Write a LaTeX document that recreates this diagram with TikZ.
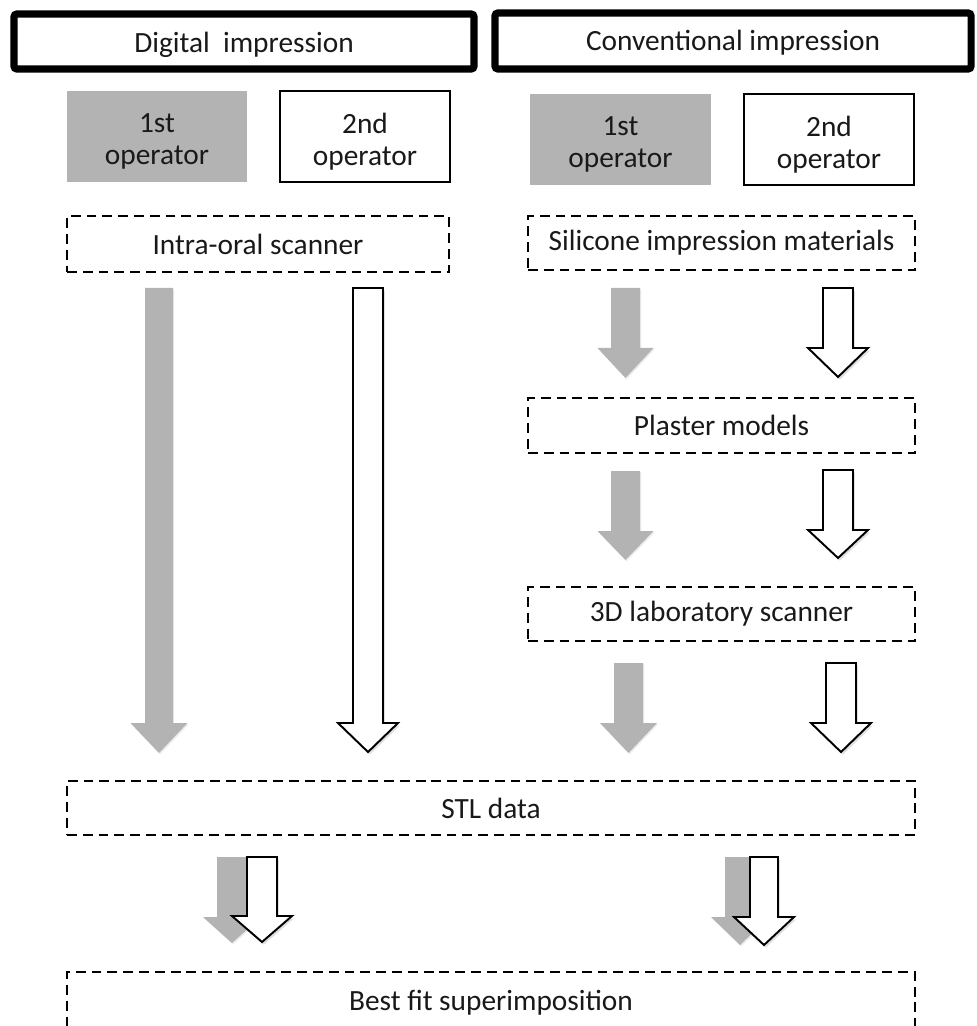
\documentclass[tikz,border=0pt]{standalone}
\usepackage{fontspec}
\setmainfont{Carlito}
\usetikzlibrary{shadows}
\definecolor{opgray}{HTML}{B3B3B3}
\newcommand\px{0.02cm}
\newcommand\blockarrow[7]{%
  \path[#1] (#2-#6,#3) -- (#2+#6,#3) -- (#2+#6,#4) -- (#2+#7,#4) -- (#2,#5)
    -- (#2-#7,#4) -- (#2-#6,#4) -- cycle;}
\begin{document}
\begin{tikzpicture}[x=0.02cm,y=-0.02cm,
  every node/.style={font=\fontsize{16.7}{18.2}\selectfont, text=black!90, outer sep=0pt, inner sep=0pt, align=center},
  headbox/.style={draw=black, line width=4pt, rounded corners=1.5pt, fill=white},
  opgraybox/.style={fill=opgray},
  opwhitebox/.style={draw=black, line width=0.9pt, fill=white},
  stepbox/.style={draw=black, line width=0.85pt, dash pattern=on 5.6pt off 3.4pt},
  grayarrow/.style={fill=opgray, drop shadow={opacity=0.15, shadow xshift=0.6pt, shadow yshift=-0.8pt}},
  whitearrow/.style={fill=white, draw=black, line width=1.1pt, line join=miter, drop shadow={opacity=0.25, shadow xshift=1pt, shadow yshift=-1.5pt}}]
\clip (0,0) rectangle (976,1026);
\fill[white] (0,0) rectangle (976,1026);

% headers
\node[headbox, minimum width=460*\px, minimum height=55*\px] (dig) at (244,41.5) {};
\node at ([yshift=-3*\px]dig.center) {Digital~~impression};
\node[headbox, minimum width=476*\px, minimum height=56*\px] (conv) at (733,41) {};
\node at ([yshift=-2*\px]conv.center) {Conventional impression};

% operators
\node[opgraybox, minimum width=180*\px, minimum height=91*\px] (d1) at (157,136.5) {};
\node at ([yshift=-5*\px]d1.center) {1st\\operator};
\node[opwhitebox, minimum width=170*\px, minimum height=91*\px] (d2) at (365,136.5) {};
\node at ([yshift=-5*\px]d2.center) {2nd\\operator};
\node[opgraybox, minimum width=181*\px, minimum height=91*\px] (c1) at (620.5,139.5) {};
\node at ([yshift=-5*\px]c1.center) {1st\\operator};
\node[opwhitebox, minimum width=170*\px, minimum height=91*\px] (c2) at (829,139.5) {};
\node at ([yshift=-5*\px]c2.center) {2nd\\operator};

% steps
\node[stepbox, minimum width=382*\px, minimum height=56*\px] (ios) at (258,244) {Intra-oral scanner};
\node[stepbox, minimum width=387*\px, minimum height=54*\px] (sil) at (721.5,243) {Silicone impression materials};
\node[stepbox, minimum width=387*\px, minimum height=55*\px] (pla) at (721.5,425.5) {Plaster models};
\node[stepbox, minimum width=387*\px, minimum height=54*\px] (lab) at (721.5,614) {3D laboratory scanner};
\node[stepbox, minimum width=848*\px, minimum height=54*\px] (stl) at (491,808) {STL data};
\node[stepbox, minimum width=848*\px, minimum height=62*\px] (best) at (491,1003) {Best fit superimposition};

% digital arrows
\blockarrow{grayarrow}{159}{288}{723}{753}{14}{28.5}
\blockarrow{whitearrow}{368}{288}{723}{752}{15}{30}

% conventional arrows
\blockarrow{grayarrow}{625.5}{288}{348}{378}{14.5}{28}
\blockarrow{whitearrow}{838}{288}{348}{377}{15}{30}
\blockarrow{grayarrow}{625.5}{471}{531}{560}{14.5}{28}
\blockarrow{whitearrow}{838}{470}{530}{558}{15}{30}
\blockarrow{grayarrow}{628.5}{663}{723}{753}{14.5}{28.5}
\blockarrow{whitearrow}{841}{663}{723}{752}{15}{30}

% bottom arrows
\blockarrow{grayarrow}{232}{857}{917}{943}{15}{29}
\blockarrow{whitearrow}{262}{857}{916}{942}{15}{30}
\blockarrow{grayarrow}{740}{857}{917}{945}{15}{29}
\blockarrow{whitearrow}{764}{857}{917}{945}{14}{30}
\end{tikzpicture}
\end{document}
